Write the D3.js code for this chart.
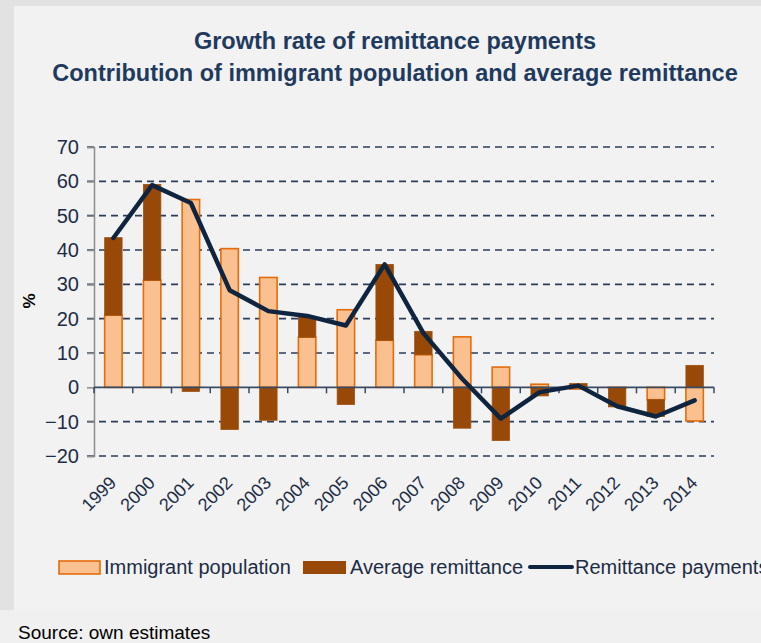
<!DOCTYPE html>
<html>
<head>
<meta charset="utf-8">
<script src="https://cdn.jsdelivr.net/npm/d3@7"></script>
<style>
    body { margin: 0; background: #f0f0f0; }
    svg { display: block; }
</style>
</head>
<body>
<div id="chart"></div>
<script>
const years = ['1999', '2000', '2001', '2002', '2003', '2004', '2005', '2006',
    '2007', '2008', '2009', '2010', '2011', '2012', '2013', '2014']
const immigrant = [21, 31.2, 54.7, 40.4, 32, 14.6, 22.6, 13.7, 9.5, 14.7, 5.9, 0.9, -0.5, -0.2, -3.6, -9.8]
const average = [22.6, 27.9, -1.2, -12.3, -9.6, 5.9, -5, 22.1, 6.8, -11.9, -15.5, -2.5, 1.1, -5.5, -4.9, 6.4]
const remittance = [43.5, 58.9, 53.7, 28.3, 22.2, 20.8, 18, 35.8, 15.8, 2.5, -9.1, -1.4, 0.5, -5.5, -8.5, -3.8]
const yTicks = [-20, -10, 0, 10, 20, 30, 40, 50, 60, 70]

const navy = "#1f3a5f"
const textColor = "#1c2c46"

const svg = d3.select("#chart")
    .append("svg")
    .attr("width", 761)
    .attr("height", 643)

// background panels
svg.append("rect").attr("x", 0).attr("y", 0).attr("width", 761).attr("height", 643).attr("fill", "#f0f0f0")
svg.append("rect").attr("x", 0).attr("y", 0).attr("width", 14).attr("height", 610).attr("fill", "#e2e2e2")
svg.append("rect").attr("x", 0).attr("y", 0).attr("width", 761).attr("height", 6).attr("fill", "#e2e2e2")
svg.append("rect").attr("x", 14).attr("y", 6).attr("width", 747).attr("height", 604).attr("fill", "#f2f2f2")

svg.append("text")
    .attr("x", 395).attr("y", 49)
    .attr("text-anchor", "middle")
    .style("font", "bold 23.5px 'Liberation Sans', Arial, sans-serif")
    .attr("fill", navy)
    .text("Growth rate of remittance payments")

svg.append("text")
    .attr("x", 395).attr("y", 81)
    .attr("text-anchor", "middle")
    .style("font", "bold 23.5px 'Liberation Sans', Arial, sans-serif")
    .attr("fill", navy)
    .text("Contribution of immigrant population and average remittance")

const x = d3.scaleBand()
    .domain(years)
    .range([94, 714])
    .paddingInner(0.55)
    .paddingOuter(0.275)

const y = d3.scaleLinear()
    .domain([-20, 70])
    .range([456, 147])

// gridlines (dashed)
svg.append("g")
    .selectAll("line")
    .data(yTicks.filter(function(d) { return d !== 0 }))
    .enter()
    .append("line")
    .attr("x1", 87).attr("x2", 714)
    .attr("y1", function(d) { return y(d) }).attr("y2", function(d) { return y(d) })
    .attr("stroke", "#2b3d58")
    .attr("stroke-width", 1.6)
    .attr("stroke-dasharray", "7,5")

// y axis
const yAxis = svg.append("g")
    .attr("transform", "translate(94,0)")
    .call(d3.axisLeft(y).tickValues(yTicks).tickSize(7).tickPadding(8))
yAxis.select(".domain").attr("stroke", "#8c8c8c").attr("stroke-width", 1.5)
yAxis.selectAll(".tick line").attr("stroke", "#8c8c8c").attr("stroke-width", 1.5)
yAxis.selectAll("text")
    .style("font", "20px 'Liberation Sans', Arial, sans-serif")
    .attr("fill", textColor)

svg.append("text")
    .attr("transform", "translate(35,301) rotate(-90)")
    .attr("text-anchor", "middle")
    .style("font", "bold 17px 'Liberation Sans', Arial, sans-serif")
    .attr("fill", "#000")
    .text("%")

// stacked bars
const rows = years.map(function(yr, i) {
    return { year: yr, immigrant: immigrant[i], average: average[i] }
})
const stack = d3.stack()
    .keys(["immigrant", "average"])
    .offset(d3.stackOffsetDiverging)
const series = stack(rows)

const fills = { immigrant: "#fac090", average: "#984807" }
const strokes = { immigrant: "#e46c0a", average: "#a0520f" }

svg.append("g")
    .selectAll("g")
    .data(series)
    .enter()
    .append("g")
    .attr("fill", function(s) { return fills[s.key] })
    .attr("stroke", function(s) { return strokes[s.key] })
    .attr("stroke-width", function(s) { return s.key === "immigrant" ? 1.6 : 0.8 })
    .selectAll("rect")
    .data(function(s) { return s })
    .enter()
    .append("rect")
    .attr("x", function(d) { return x(d.data.year) })
    .attr("width", x.bandwidth())
    .attr("y", function(d) { return y(Math.max(d[0], d[1])) })
    .attr("height", function(d) { return Math.abs(y(d[0]) - y(d[1])) })

// zero axis with category ticks
const zero = svg.append("g")
zero.append("line")
    .attr("x1", 94).attr("x2", 714)
    .attr("y1", y(0)).attr("y2", y(0))
    .attr("stroke", "#3a4a62").attr("stroke-width", 1.6)
zero.selectAll(".cat-tick")
    .data(years.concat(["end"]))
    .enter()
    .append("line")
    .attr("class", "cat-tick")
    .attr("x1", function(d, i) { return 94 + i * x.step() })
    .attr("x2", function(d, i) { return 94 + i * x.step() })
    .attr("y1", y(0)).attr("y2", y(0) + 6)
    .attr("stroke", "#3a4a62").attr("stroke-width", 1.5)

svg.append("g")
    .selectAll("text")
    .data(years)
    .enter()
    .append("text")
    .attr("transform", function(d) {
        return "translate(" + (x(d) + x.bandwidth() / 2 + 4) + ",484) rotate(-45)"
    })
    .attr("text-anchor", "end")
    .style("font", "18px 'Liberation Sans', Arial, sans-serif")
    .attr("fill", textColor)
    .text(function(d) { return d })

// total line
const line = d3.line()
    .x(function(d, i) { return x(years[i]) + x.bandwidth() / 2 })
    .y(function(d) { return y(d) })

svg.append("path")
    .datum(remittance)
    .attr("d", line)
    .attr("fill", "none")
    .attr("stroke", "#0f243e")
    .attr("stroke-width", 4.5)
    .attr("stroke-linejoin", "round")
    .attr("stroke-linecap", "round")

// legend
const legend = svg.append("g")
    .style("font", "20px 'Liberation Sans', Arial, sans-serif")

legend.append("rect")
    .attr("x", 59).attr("y", 561).attr("width", 41).attr("height", 13)
    .attr("fill", fills.immigrant).attr("stroke", strokes.immigrant).attr("stroke-width", 1.6)
legend.append("text")
    .attr("x", 104).attr("y", 574)
    .attr("fill", textColor)
    .text("Immigrant population")

legend.append("rect")
    .attr("x", 303).attr("y", 561).attr("width", 43).attr("height", 13)
    .attr("fill", fills.average)
legend.append("text")
    .attr("x", 350).attr("y", 574)
    .attr("fill", textColor)
    .text("Average remittance")

legend.append("line")
    .attr("x1", 530).attr("x2", 572).attr("y1", 567).attr("y2", 567)
    .attr("stroke", "#0f243e").attr("stroke-width", 4).attr("stroke-linecap", "round")
legend.append("text")
    .attr("x", 575).attr("y", 574)
    .attr("fill", textColor)
    .text("Remittance payments")

svg.append("text")
    .attr("x", 18).attr("y", 639)
    .style("font", "19px 'Liberation Sans', Arial, sans-serif")
    .attr("fill", "#000")
    .text("Source: own estimates")
</script>
</body>
</html>
